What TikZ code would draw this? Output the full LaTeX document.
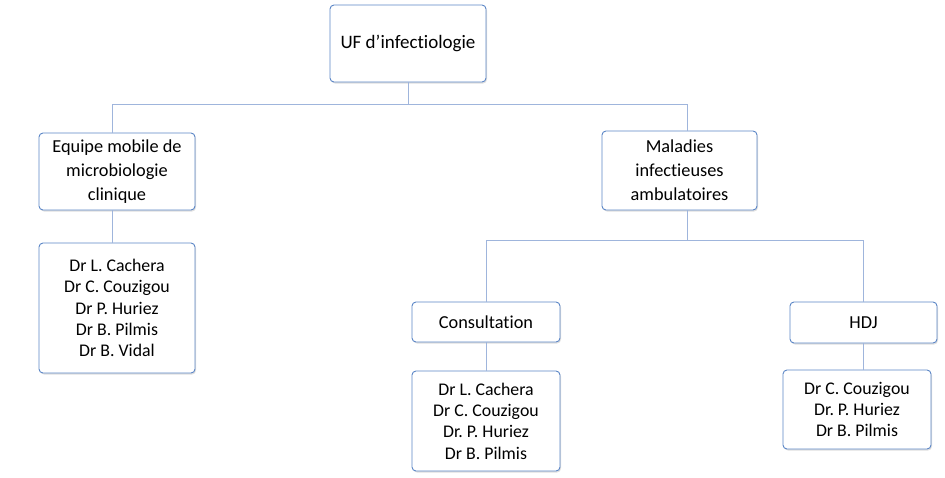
\documentclass[tikz,border=0pt]{standalone}
\usepackage{fontspec}
\setmainfont[Ligatures=NoCommon]{Carlito}
\usetikzlibrary{shadows}
\definecolor{boxline}{HTML}{5B86C6}
\definecolor{conn}{HTML}{9FB5DC}
\frenchspacing
\tikzset{
  x=1pt,y=-1pt,
  orgbox/.style={draw=boxline, line width=0.9pt, rounded corners=4pt, fill=white, align=center,
    font=\fontsize{18.3}{24}\selectfont, inner sep=0pt,
    drop shadow={shadow xshift=1pt, shadow yshift=-1.5pt, opacity=0.25, fill=gray}},
  listbox/.style={orgbox, font=\fontsize{17.8}{21.3}\selectfont},
  link/.style={draw=conn, line width=0.9pt}
}
\begin{document}
\begin{tikzpicture}
\useasboundingbox (0,0) rectangle (945,477);
\node[orgbox, minimum width=156pt, minimum height=77pt, font=\fontsize{19}{24}\selectfont] (uf) at (408,43.5) {UF d’infectiologie};
\node[orgbox, minimum width=156pt, minimum height=77pt] (eq) at (117,171.5) {Equipe mobile de\\microbiologie\\clinique};
\node[listbox, minimum width=156pt, minimum height=130pt] (eql) at (117,308) {Dr L. Cachera\\Dr C. Couzigou\\Dr P. Huriez\\Dr B. Pilmis\\Dr B. Vidal};
\node[orgbox, minimum width=155pt, minimum height=79pt] (mal) at (679.5,170.5) {Maladies\\infectieuses\\ambulatoires};
\node[orgbox, minimum width=148pt, minimum height=40pt] (cons) at (486,322) {Consultation};
\node[listbox, minimum width=148pt, minimum height=100pt] (consl) at (486,421) {Dr L. Cachera\\Dr C. Couzigou\\Dr. P. Huriez\\Dr B. Pilmis};
\node[orgbox, minimum width=147pt, minimum height=41pt] (hdj) at (863.5,322.5) {HDJ};
\node[listbox, minimum width=148pt, minimum height=79pt] (hdjl) at (857,409.5) {Dr C. Couzigou\\Dr. P. Huriez\\Dr B. Pilmis};
\coordinate (b1) at (408,104);
\coordinate (b2) at (687,240);
% connectors
\draw[link] (uf.south) -- (b1);
\draw[link] (b1) -| ([xshift=-5pt]eq.north);
\draw[link] (b1) -| ([xshift=7.5pt]mal.north);
\draw[link] ([xshift=-5pt]eq.south) -- ([xshift=-5pt]eql.north);
\draw[link] ([xshift=7.5pt]mal.south) -- (b2);
\draw[link] (b2) -| (cons.north);
\draw[link] (b2) -| ([xshift=-0.5pt]hdj.north);
\draw[link] (cons.south) -- (consl.north);
\draw[link] ([xshift=-0.5pt]hdj.south) -- ([xshift=6pt]hdjl.north);
\end{tikzpicture}
\end{document}
